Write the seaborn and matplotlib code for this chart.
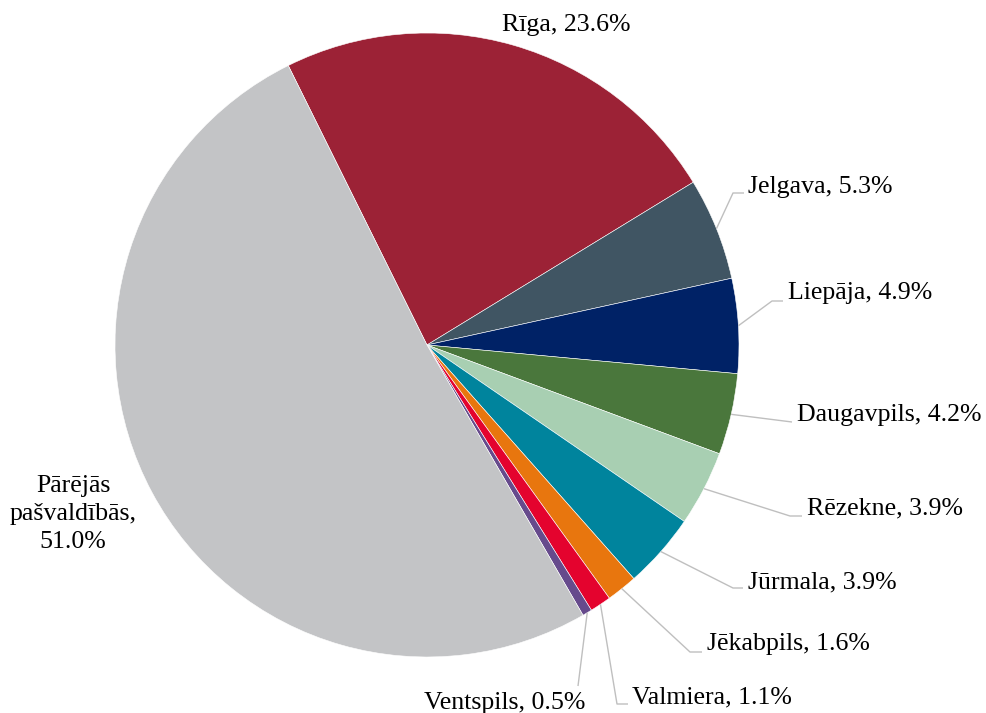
import matplotlib
matplotlib.use("Agg")
import matplotlib.pyplot as plt
import seaborn as sns
import numpy as np

# Dati
pasvaldibas = ["Rīga", "Jelgava", "Liepāja", "Daugavpils", "Rēzekne",
               "Jūrmala", "Jēkabpils", "Valmiera", "Ventspils",
               "Pārējās\npašvaldībās,"]
vertibas = [23.6, 5.3, 4.9, 4.2, 3.9, 3.9, 1.6, 1.1, 0.5, 51.0]
krasas = ["#9C2236", "#405563", "#002266", "#4A773C", "#A8CFB2",
          "#00849D", "#E8760E", "#E4032E", "#664A8C", "#C3C4C6"]

sns.set_theme(style="white")
plt.rcParams["font.family"] = ["Liberation Serif", "DejaVu Serif"]

W, H = 987, 713
fig = plt.figure(figsize=(W / 100, H / 100), dpi=100)
ax = fig.add_axes([0, 0, 1, 1])

cx, cy, r = 427, H - 345, 312
wedges, _ = ax.pie(vertibas, colors=krasas, startangle=116.4, counterclock=False,
                   radius=r, center=(cx, cy),
                   wedgeprops=dict(edgecolor="white", linewidth=0.4))
ax.set_xlim(0, W)
ax.set_ylim(0, H)
ax.set_aspect("equal")
ax.axis("off")

# izkārtojums: teksta pozīcija (pikseļos), līdzinājums, lauzuma punkts, līnijas gals
izkartojums = [
    ((566, 25), "center", None, None),
    ((748, 187), "left", (733, 193), (744, 193)),
    ((788, 293), "left", (772, 301), (783, 301)),
    ((797, 415), "left", (792, 422), (792, 422)),
    ((807, 508), "left", (790, 516), (802, 516)),
    ((748, 582), "left", (733, 588), (743, 588)),
    ((707, 644), "left", (690, 652), (702, 652)),
    ((632, 697), "left", (617, 704), (628, 704)),
    ((505, 703), "center", (578, 686), (578, 686)),
    ((73, 514), "center", None, None),
]

for w, nos, val, (pos, ha, elbow, end) in zip(wedges, pasvaldibas, vertibas, izkartojums):
    if nos.endswith(","):
        txt = f"{nos}\n{val:.1f}%"
    else:
        txt = f"{nos}, {val:.1f}%"
    ax.text(pos[0], H - pos[1], txt, ha=ha, va="center", fontsize=18.6,
            color="black", linespacing=1.38)
    if elbow is not None:
        mid = np.deg2rad((w.theta1 + w.theta2) / 2)
        sx, sy = cx + r * np.cos(mid), cy + r * np.sin(mid)
        ax.plot([sx, elbow[0], end[0]], [sy, H - elbow[1], H - end[1]],
                color="#BFBFBF", lw=1, solid_capstyle="butt")

fig.savefig("out.png", dpi=100)
